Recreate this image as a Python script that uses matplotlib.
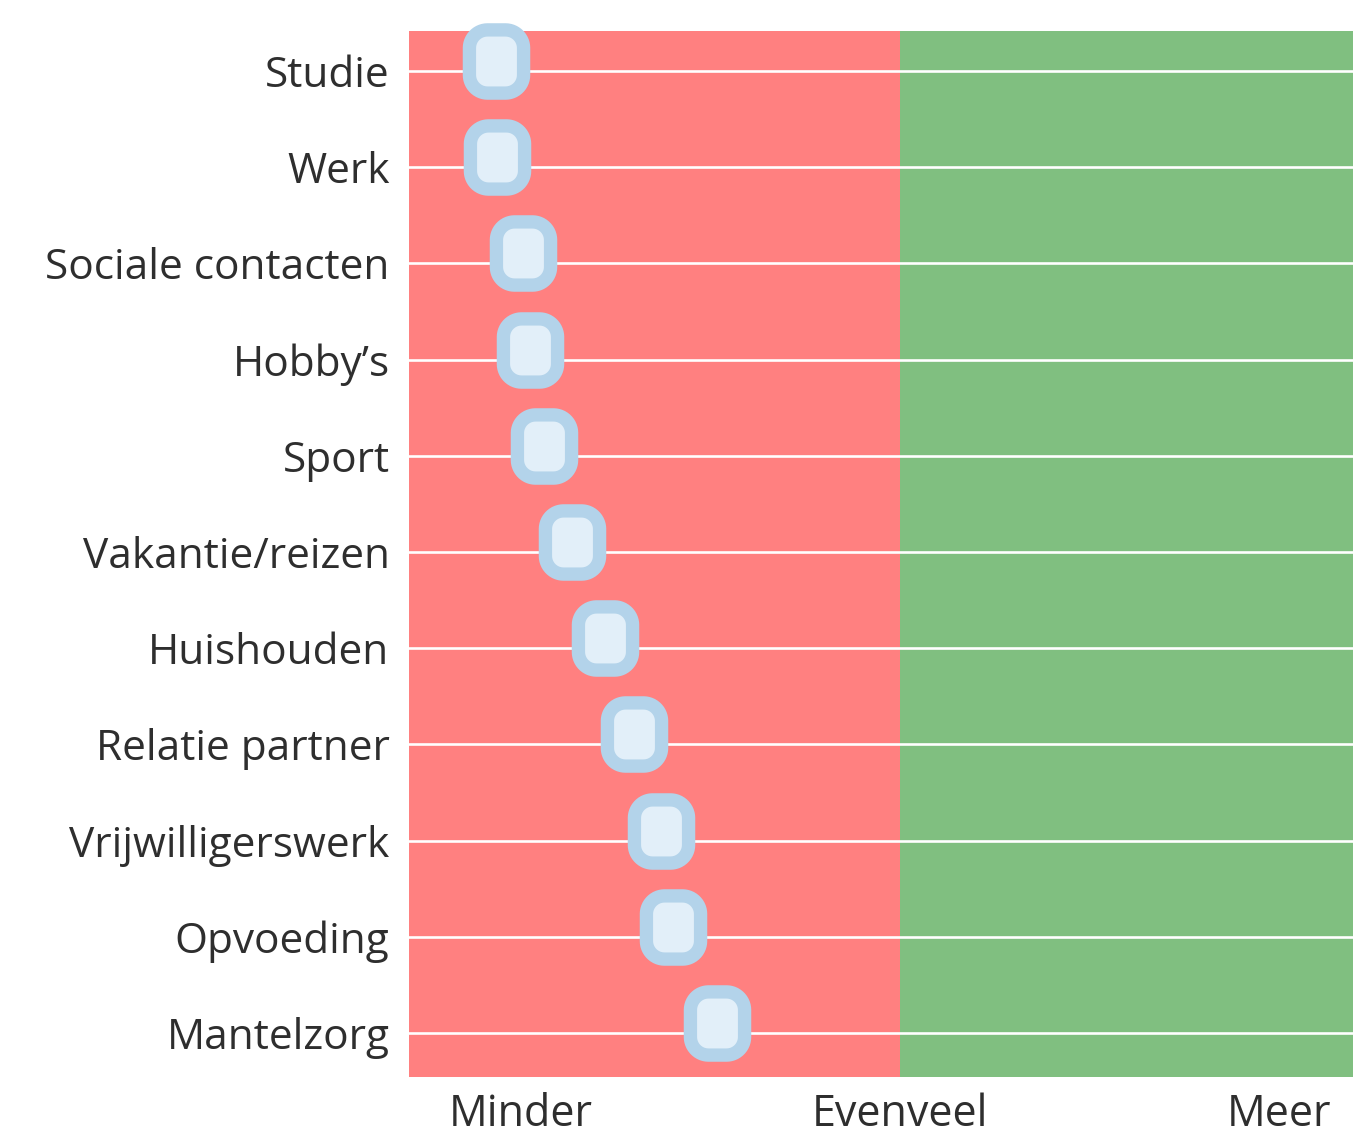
import numpy as np
import matplotlib
matplotlib.use("Agg")
import matplotlib.pyplot as plt
from matplotlib.path import Path
from matplotlib.transforms import ScaledTranslation

plt.rcParams['font.family'] = ['Open Sans', 'DejaVu Sans']

categories = ['Studie', 'Werk', 'Sociale contacten', "Hobby\u2019s", 'Sport',
              'Vakantie/reizen', 'Huishouden', 'Relatie partner',
              'Vrijwilligerswerk', 'Opvoeding', 'Mantelzorg']
values = [-1.064, -1.062, -0.993, -0.976, -0.940, -0.866,
          -0.778, -0.701, -0.630, -0.599, -0.483]
tick_pos = [-1, 0, 1]
tick_labels = ['Minder', 'Evenveel', 'Meer']


def rounded_rect(w, h, r, n=14):
    # closed path of a rounded rectangle centred on 0
    pts = []
    corners = [(w/2 - r, h/2 - r, 0), (-w/2 + r, h/2 - r, 90),
               (-w/2 + r, -h/2 + r, 180), (w/2 - r, -h/2 + r, 270)]
    for cx, cy, a0 in corners:
        for a in np.linspace(a0, a0 + 90, n):
            t = np.radians(a)
            pts.append((cx + r*np.cos(t), cy + r*np.sin(t)))
    pts.append(pts[0])
    codes = [Path.MOVETO] + [Path.LINETO]*(len(pts) - 2) + [Path.CLOSEPOLY]
    return Path(pts, codes)


marker = rounded_rect(54, 63, 18)

fig = plt.figure(figsize=(13.53, 11.32), dpi=100)
ax = fig.add_axes([409/1353, 1 - 1077/1132, 1 - 409/1353, (1077 - 31)/1132])

xmin, xmax = -1.2947, 1.1945
ax.axvspan(xmin, 0, color='#ff8080', lw=0, zorder=0)
ax.axvspan(0, xmax, color='#80bf80', lw=0, zorder=0)

rows = np.arange(len(categories))
for y in rows:
    ax.axhline(y, color='white', lw=1.9, zorder=1)

shift = ax.transData + ScaledTranslation(0, 10/100, fig.dpi_scale_trans)
ax.plot(values, rows, ls='none', marker=marker, markersize=45.5,
        markeredgewidth=9.6, markerfacecolor='#e2eff9',
        markeredgecolor='#b3d3ea', transform=shift, zorder=3, clip_on=False)

ax.set_xlim(xmin, xmax)
ax.set_ylim(10.457, -0.416)
ax.set_yticks(rows)
ax.set_yticklabels(categories)
ax.set_xticks(tick_pos)
ax.set_xticklabels(tick_labels)
ax.tick_params(axis='y', length=0, pad=14, labelsize=30.5, labelcolor='#2e2e2e')
ax.tick_params(axis='x', length=0, pad=11, labelsize=31, labelcolor='#2e2e2e')
for s in ax.spines.values():
    s.set_visible(False)

fig.savefig('out.png', dpi=100)
